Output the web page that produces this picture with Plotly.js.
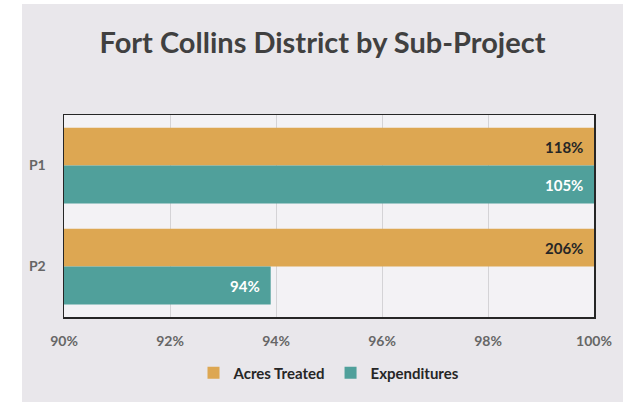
<!DOCTYPE html>
<html>
<head>
<meta charset="utf-8">
<script src="https://cdn.plot.ly/plotly-3.0.1.min.js"></script>
<style>
  html, body { margin: 0; padding: 0; background: #ffffff; width: 623px; height: 402px; overflow: hidden; }
  #chart { position: absolute; left: 22px; top: 4px; width: 601px; height: 398px; }
</style>
</head>
<body>
<div id="chart"></div>
<script>
// ---- data ----
const categories = ["P1", "P2"];
const seriesNames = ["Acres Treated", "Expenditures"];
const acresTreated = [1.18, 2.06];
const expenditures = [1.05, 0.939];
const xTickVals = [0.90, 0.92, 0.94, 0.96, 0.98, 1.00];
const xTickText = ["90%", "92%", "94%", "96%", "98%", "100%"];
const xRange = [0.90, 1.00];

const colors = ["#DDA752", "#50A09B"];
const labelColors = ["#262626", "#ffffff"];
const FONT = "Lato, 'Open Sans', sans-serif";

const seriesVals = [acresTreated, expenditures];

const traces = seriesVals.map((vals, i) => ({
  type: "bar",
  orientation: "h",
  name: seriesNames[i],
  y: categories,
  x: vals,
  marker: { color: colors[i] },
  hoverinfo: "none",
  cliponaxis: true
}));

// Data labels placed at the visible end of each bar
const annotations = [];
seriesVals.forEach((vals, i) => {
  vals.forEach((v, j) => {
    annotations.push({
      x: Math.min(v, xRange[1]),
      y: categories[j],
      xref: "x", yref: "y",
      text: "<b>" + Math.round(v * 100) + "%</b>",
      showarrow: false,
      xanchor: "right",
      yanchor: "middle",
      xshift: -9,
      yshift: i === 0 ? 19 : -19,
      font: { family: FONT, size: 15, color: labelColors[i] }
    });
  });
});

const layout = {
  width: 601,
  height: 398,
  paper_bgcolor: "#E9E7EB",
  plot_bgcolor: "#F3F2F5",
  margin: { l: 42, r: 29, t: 111, b: 78, pad: 0 },
  title: {
    text: "<b>Fort Collins District by Sub-Project</b>",
    font: { family: FONT, size: 29, color: "#404040" },
    x: 0.5, xref: "container", xanchor: "center",
    y: 1 - 39 / 398, yref: "container", yanchor: "middle"
  },
  barmode: "group",
  bargap: 0.25,
  bargroupgap: 0,
  xaxis: {
    range: xRange,
    tickvals: xTickVals,
    ticktext: xTickText,
    showgrid: true,
    gridcolor: "#D4D3D6",
    gridwidth: 1,
    zeroline: false,
    showline: true,
    linecolor: "#262626",
    linewidth: 1.5,
    mirror: true,
    ticks: "",
    ticklabelstandoff: 11,
    tickfont: { family: FONT, size: 14, color: "#666666", weight: "bold" },
    fixedrange: true
  },
  yaxis: {
    type: "category",
    autorange: "reversed",
    showgrid: false,
    zeroline: false,
    showline: true,
    linecolor: "#262626",
    linewidth: 1.5,
    mirror: true,
    ticks: "",
    ticklabelstandoff: 14,
    tickfont: { family: FONT, size: 14, color: "#666666", weight: "bold" },
    fixedrange: true
  },
  legend: {
    orientation: "h",
    x: 0.5, xanchor: "center",
    y: -58 / 209, yanchor: "middle",
    font: { family: FONT, size: 15, color: "#262626", weight: "bold" },
    bgcolor: "rgba(0,0,0,0)",
    itemwidth: 30,
    traceorder: "normal"
  },
  annotations: annotations,
  showlegend: true
};

Plotly.newPlot("chart", traces, layout, { displayModeBar: false, staticPlot: true });
</script>
</body>
</html>
